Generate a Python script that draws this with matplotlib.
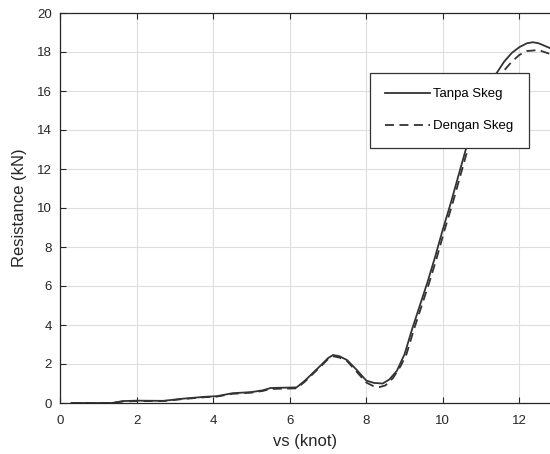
import matplotlib
matplotlib.use("Agg")
from matplotlib import pyplot as plt

plt.rcParams["font.family"] = ["Liberation Sans", "DejaVu Sans"]

# speed (knot) and resistance (kN)
vs_tanpa = [0.3, 1.35, 1.65, 2.0, 2.7, 3.2, 3.8, 4.1, 4.5, 5.0, 5.3, 5.5, 6.18,
            6.4, 6.6, 6.85, 7.0, 7.13, 7.3, 7.5, 7.75, 8.0, 8.2, 8.43, 8.6,
            8.8, 9.0, 9.2, 9.4, 9.6, 9.8, 10.0, 10.2, 10.4, 10.6, 10.8, 11.0,
            11.2, 11.4, 11.6, 11.8, 12.0, 12.2, 12.35, 12.5, 12.8]
r_tanpa = [0.0, 0.0, 0.1, 0.12, 0.11, 0.22, 0.32, 0.35, 0.5, 0.56, 0.65, 0.77,
           0.8, 1.15, 1.53, 2.0, 2.3, 2.46, 2.4, 2.2, 1.7, 1.15, 1.03, 1.0, 1.2,
           1.65, 2.5, 3.8, 5.0, 6.2, 7.5, 8.9, 10.2, 11.6, 13.0, 14.2, 15.2,
           16.1, 16.9, 17.5, 17.95, 18.25, 18.45, 18.5, 18.45, 18.2]

vs_dengan = [0.3, 1.35, 1.65, 2.0, 2.7, 3.2, 3.8, 4.1, 4.5, 5.0, 5.3, 5.5, 6.18,
             6.4, 6.6, 6.85, 7.0, 7.13, 7.3, 7.5, 7.75, 8.0, 8.2, 8.35, 8.5,
             8.7, 8.9, 9.05, 9.25, 9.45, 9.65, 9.85, 10.05, 10.25, 10.45,
             10.65, 10.85, 11.05, 11.25, 11.45, 11.6, 11.8, 12.0, 12.2, 12.5,
             12.8]
r_dengan = [0.0, 0.0, 0.08, 0.1, 0.1, 0.2, 0.3, 0.33, 0.47, 0.53, 0.62, 0.72,
            0.75, 1.1, 1.48, 1.95, 2.25, 2.4, 2.33, 2.15, 1.6, 1.05, 0.85, 0.82,
            0.9, 1.28, 1.9, 2.5, 3.8, 5.0, 6.2, 7.5, 8.9, 10.2, 11.6, 13.0,
            14.1, 15.0, 15.9, 16.6, 17.05, 17.5, 17.85, 18.05, 18.1, 17.9]

fig = plt.figure(figsize=(5.5, 4.54), dpi=100)
ax = fig.add_axes([60 / 550, 51 / 454, 490 / 550, 390 / 454])

ax.plot(vs_tanpa, r_tanpa, color="#333333", lw=1.3, label="Tanpa Skeg")
ax.plot(vs_dengan, r_dengan, color="#333333", lw=1.3, ls=(0, (5, 3)),
        label="Dengan Skeg")

ax.set_xlim(0, 12.8)
ax.set_ylim(0, 20)
ax.set_xticks(range(0, 13, 2))
ax.set_yticks(range(0, 21, 2))
ax.grid(True, color="#dedede", lw=0.8)
ax.set_axisbelow(True)
ax.tick_params(direction="in", top=True, right=False, length=4,
               labelsize=9.5, colors="#262626", width=0.8)
ax.tick_params(axis="x", pad=9)
ax.tick_params(axis="y", pad=6)
ax.spines["right"].set_visible(False)
for side in ["left", "bottom", "top"]:
    ax.spines[side].set_color("#262626")
    ax.spines[side].set_linewidth(0.9)

ax.set_xlabel("vs (knot)", fontsize=12, color="#262626", labelpad=5)
ax.set_ylabel("Resistance (kN)", fontsize=12, color="#262626", labelpad=7)

leg = ax.legend(loc="upper left", bbox_to_anchor=(310 / 490, (403 - 73) / 390),
                fontsize=9.5, fancybox=False, framealpha=1, edgecolor="#333333",
                handlelength=3.4, handletextpad=0.25, labelspacing=1.5,
                borderpad=1.15, borderaxespad=0)
leg.get_frame().set_linewidth(0.9)

fig.savefig("out.png", dpi=100)
